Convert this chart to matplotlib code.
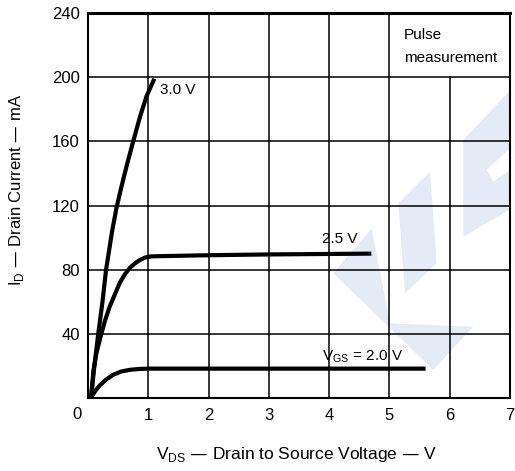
import matplotlib
matplotlib.use("Agg")
import matplotlib.pyplot as plt
from matplotlib.patches import Polygon

plt.rcParams['font.family'] = ['Liberation Sans', 'DejaVu Sans']

# drain characteristics
vds_30 = [0.05, 0.1, 0.17, 0.24, 0.3, 0.4, 0.47, 0.55, 0.65, 0.75, 0.86, 0.97, 1.1]
id_30 = [0, 18, 40, 60, 80, 104, 118, 131, 146, 160, 175, 188, 199]

vds_25 = [0.05, 0.09, 0.14, 0.2, 0.28, 0.36, 0.45, 0.53, 0.61, 0.69, 0.78,
          0.86, 0.95, 1.05, 1.3, 2.0, 3.0, 4.7]
id_25 = [0, 17, 28, 37, 48, 57, 65, 72, 77, 81, 84, 86, 87.6, 88.3, 88.5,
         89, 89.5, 90]

vds_20 = [0.05, 0.08, 0.13, 0.2, 0.3, 0.42, 0.55, 0.7, 0.85, 1.0, 3.0, 5.6]
id_20 = [0, 2, 5, 8, 11.5, 14.5, 16.5, 17.6, 18.1, 18.3, 18.3, 18.3]

x_ticks = [1, 2, 3, 4, 5, 6, 7]
y_ticks = [40, 80, 120, 160, 200, 240]

W, H = 515, 471
fig = plt.figure(figsize=(W / 100, H / 100), dpi=100)
ax = fig.add_axes([88 / W, 1 - 398 / H, (510 - 88) / W, (398 - 13) / H])
ax.set_xlim(0, 7)
ax.set_ylim(0, 240)

# faint watermark behind the grid (pixel outlines)
wm = [
    [(371.7, 228.3), (333.3, 273.3), (433.3, 370), (473.3, 326.7), (390, 323.3)],
    [(398.3, 203.3), (430, 171.7), (436.7, 263.3), (405, 293.3)],
    [(463.3, 140), (515, 85), (515, 143.3), (486.7, 170), (493.3, 181.7),
     (515, 166.7), (515, 206.7), (463.3, 236.7)],
]
for pts in wm:
    ax.add_patch(Polygon([(px / W, 1 - py / H) for px, py in pts], closed=True,
                         transform=fig.transFigure, facecolor='#e4ebf7',
                         edgecolor='none', zorder=0.5))

# grid: the x=6 line stops under the "Pulse measurement" box
for x in x_ticks[:-2]:
    ax.axvline(x, color='black', lw=1.1, zorder=1)
ax.plot([6, 6], [0, 200], color='black', lw=1.1, zorder=1)
for y in y_ticks[:-1]:
    ax.axhline(y, color='black', lw=1.1, zorder=1)

for v, i in [(vds_30, id_30), (vds_25, id_25), (vds_20, id_20)]:
    ax.plot(v, i, color='black', lw=3.0, solid_capstyle='butt',
            solid_joinstyle='round', zorder=3)

ax.text(1.2, 192, '3.0 V', fontsize=11, va='center', ha='left')
ax.text(3.88, 99, '2.5 V', fontsize=11, va='center', ha='left')
ax.text(3.88, 25.5, 'V$_{\\mathregular{GS}}$ = 2.0 V', fontsize=11, va='center', ha='left')
ax.text(5.24, 226, 'Pulse', fontsize=11, va='center', ha='left')
ax.text(5.24, 212, 'measurement', fontsize=11, va='center', ha='left')

ax.set_xticks(x_ticks)
ax.set_yticks(y_ticks)
ax.tick_params(length=0, labelsize=12)
ax.tick_params(axis='x', pad=7)
ax.tick_params(axis='y', pad=6)
ax.text(-0.18, -10, '0', fontsize=12, ha='center', va='center')

for s in ['left', 'bottom', 'right']:
    ax.spines[s].set_linewidth(1.5)
ax.spines['top'].set_linewidth(2.2)

fig.text(297 / W, 1 - 455 / H, 'V$_{\\mathregular{DS}}$ — Drain to Source Voltage — V',
         fontsize=12.5, ha='center', va='center')
fig.text(17 / W, 1 - 190 / H, 'I$_{\\mathregular{D}}$ — Drain Current — mA',
         fontsize=12, ha='center', va='center', rotation=90)

fig.savefig('out.png', dpi=100)
